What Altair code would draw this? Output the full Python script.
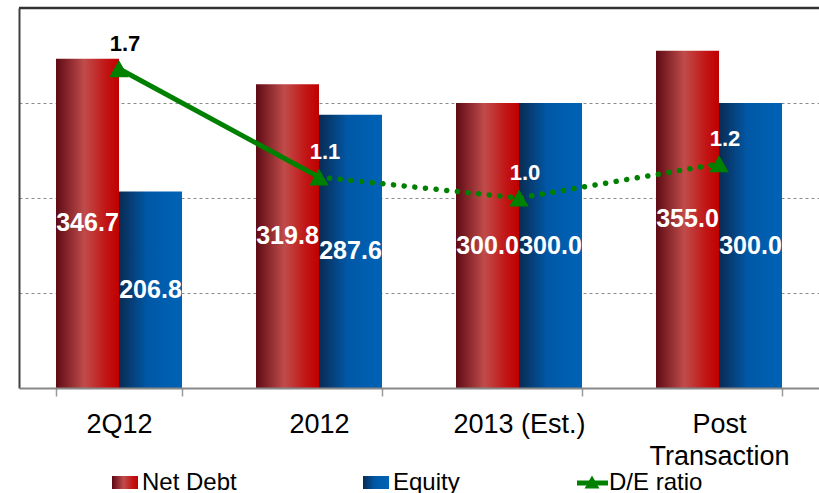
import altair as alt
import pandas as pd

categories = ['2Q12', '2012', '2013 (Est.)', 'Post\nTransaction']
net_debt = [346.7, 319.8, 300.0, 355.0]
equity = [206.8, 287.6, 300.0, 300.0]
de_ratio = [1.68, 1.11, 1.00, 1.18]
series_names = ['Net Debt', 'Equity']
legend_labels = ['Net Debt', 'Equity', 'D/E ratio']

bars = pd.DataFrame({
    'cat': categories * 2,
    'series': [series_names[0]] * len(categories) + [series_names[1]] * len(categories),
    'value': net_debt + equity,
})
de = pd.DataFrame({'cat': categories, 'de': de_ratio, 'idx': list(range(len(categories)))})

FONT = 'Liberation Sans'
W, H = 800, 380
GREEN = '#008000'

red = alt.LinearGradient(gradient='linear', x1=0, x2=1, y1=0, y2=0, stops=[
    alt.GradientStop(offset=0, color='#5e0a15'),
    alt.GradientStop(offset=0.45, color='#c04c4a'),
    alt.GradientStop(offset=0.8, color='#c21414'),
    alt.GradientStop(offset=1, color='#c00000')])
blue = alt.LinearGradient(gradient='linear', x1=0, x2=1, y1=0, y2=0, stops=[
    alt.GradientStop(offset=0, color='#0a2b52'),
    alt.GradientStop(offset=0.45, color='#0058a6'),
    alt.GradientStop(offset=1, color='#0063b6')])

x = alt.X('cat:N', sort=categories,
          scale=alt.Scale(domain=categories, paddingInner=0.37, paddingOuter=0.185),
          axis=alt.Axis(title=None, labelFont=FONT, labelFontSize=27, labelColor='black',
                        labelAngle=0, labelPadding=15, labelOverlap=False,
                        labelExpr="split(datum.label, '\\n')", labelLineHeight=32,
                        tickBand='extent', tickSize=8, tickColor='#999999', tickWidth=1.5,
                        domainColor='#888888', domainWidth=2, zindex=1, grid=False))
xo = alt.XOffset('series:N', sort=series_names, scale=alt.Scale(domain=series_names))
yaxis = alt.Axis(title=None, labels=False, ticks=False, values=[100, 200, 300],
                 grid=True, gridColor='#8c8c8c', gridDash=[3, 3], gridWidth=1,
                 domainColor='#404040', domainWidth=2)
yb = alt.Y('value:Q', scale=alt.Scale(domain=[0, 400]), axis=yaxis)

nd = alt.Chart(bars).transform_filter(alt.datum.series == series_names[0]).mark_bar(
    fill=red).encode(x=x, xOffset=xo, y=yb)
eq = alt.Chart(bars).transform_filter(alt.datum.series == series_names[1]).mark_bar(
    fill=blue).encode(x=x, xOffset=xo, y=yb)
txt = alt.Chart(bars).transform_calculate(mid='datum.value / 2').mark_text(
    font=FONT, fontSize=25, fontWeight='bold', color='white', baseline='middle').encode(
    x=x, xOffset=xo,
    y=alt.Y('mid:Q', scale=alt.Scale(domain=[0, 400]), axis=yaxis),
    text=alt.Text('value:Q', format='.1f'))

yl = alt.Y('de:Q', scale=alt.Scale(domain=[0, 2]), axis=None)
solid = alt.Chart(de).transform_filter('datum.idx <= 1').mark_line(
    color=GREEN, strokeWidth=5).encode(x=x, y=yl)
dotted = alt.Chart(de).transform_filter('datum.idx >= 1').mark_line(
    color=GREEN, strokeWidth=5.5, strokeDash=[0.1, 10.6], strokeCap='round').encode(x=x, y=yl)
pts = alt.Chart(de).mark_point(shape='triangle-up', filled=True, size=380, color=GREEN,
                               opacity=1).encode(x=x, y=yl)
detext = alt.Chart(de).mark_text(font=FONT, fontSize=22, fontWeight='bold', dx=6, dy=-18,
                                 baseline='alphabetic').encode(
    x=x, y=yl, text=alt.Text('de:Q', format='.1f'),
    color=alt.condition('datum.idx == 0', alt.value('black'), alt.value('white')))

bars_layer = alt.layer(nd, eq, txt)
line_layer = alt.layer(solid, dotted, pts, detext)
main = alt.layer(bars_layer, line_layer).resolve_scale(y='independent')

one = pd.DataFrame({'k': [0]})
border = alt.Chart(one).mark_rule(color='#333333', strokeWidth=2.5).encode(
    x=alt.value(0), x2=alt.value(W), y=alt.value(0))


def leg_text(label, xpos):
    return alt.Chart(pd.DataFrame({'label': [label]})).mark_text(
        align='left', baseline='alphabetic', font=FONT, fontSize=24, color='black').encode(
        x=alt.value(xpos), y=alt.value(482), text='label:N')


sw_nd = alt.Chart(one).mark_rect(fill=red).encode(
    x=alt.value(93), x2=alt.value(119), y=alt.value(468), y2=alt.value(481))
sw_eq = alt.Chart(one).mark_rect(fill=blue).encode(
    x=alt.value(344), x2=alt.value(370), y=alt.value(468), y2=alt.value(481))
sw_de_line = alt.Chart(one).mark_rule(color=GREEN, strokeWidth=5).encode(
    x=alt.value(558), x2=alt.value(589), y=alt.value(475))
sw_de_pt = alt.Chart(one).mark_point(shape='triangle-up', filled=True, size=220, color=GREEN,
                                     opacity=1).encode(x=alt.value(573), y=alt.value(474))

chart = alt.layer(
    main, border,
    sw_nd, leg_text(legend_labels[0], 123),
    sw_eq, leg_text(legend_labels[1], 374),
    sw_de_line, sw_de_pt, leg_text(legend_labels[2], 590),
).properties(
    width=W, height=H,
    padding={'left': 19, 'top': 8, 'right': 0, 'bottom': 105},
    autosize='none',
    background='white',
).configure_view(stroke=None)

chart.save('out.html', embed_options={'renderer': 'svg', 'actions': False})
